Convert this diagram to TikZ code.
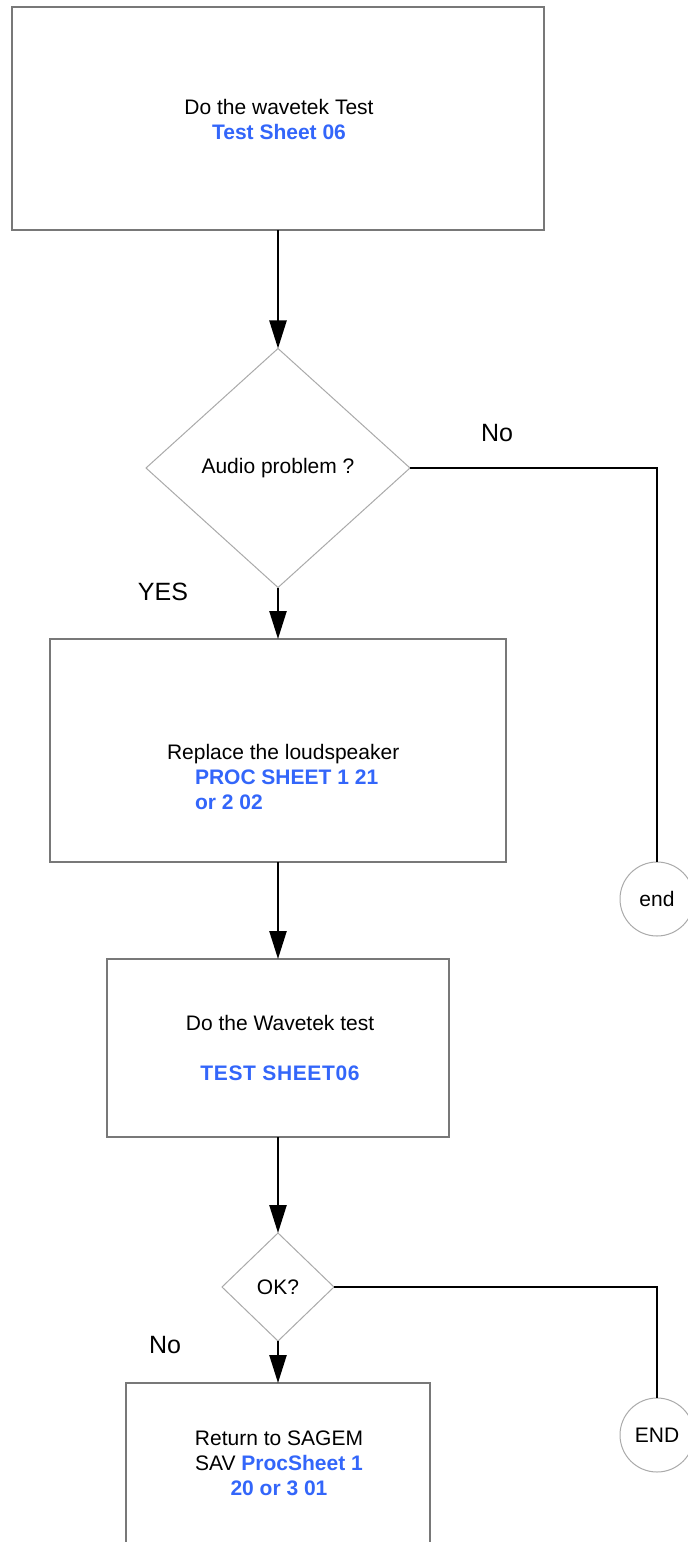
\documentclass[tikz,border=0pt]{standalone}
\usepackage{fontspec}
\setmainfont{Liberation Sans}
\usetikzlibrary{shapes.geometric,arrows.meta}
\definecolor{blueT}{RGB}{51,102,250}
\definecolor{boxline}{RGB}{120,120,120}
\definecolor{dialine}{RGB}{170,170,170}
\newcommand{\bl}[1]{{\bfseries\color{blueT}#1}}
\tikzset{
  every node/.style={font=\fontsize{21}{25}\selectfont, inner sep=0pt, outer sep=0pt},
  stepbox/.style={draw=boxline, line width=1.3pt, rectangle, fill=none},
  decision/.style={draw=dialine, line width=1pt, diamond},
  terminal/.style={draw=dialine, line width=1pt, circle, minimum size=74pt},
  conn/.style={draw=black, line width=2.4pt},
  arr/.style={conn, -{Triangle[length=28pt,width=17pt]}},
  lbl/.style={font=\fontsize{25}{28}\selectfont},
  txt/.style={align=center}
}
\begin{document}
\begin{tikzpicture}[x=1pt,y=-1pt]
\useasboundingbox (0,0) rectangle (688,1542);
\clip (0,0) rectangle (688,1542);
\fill[white] (0,0) rectangle (688,1542);
% boxes
\node[stepbox, minimum width=532pt, minimum height=223pt] (b1) at (278,118.5) {};
\node[txt] (t1) at (279,119) {Do the wavetek Test\\ \bl{Test Sheet 06}};
\node[decision, minimum width=264pt, minimum height=239pt] (d1) at (278,468) {Audio problem ?};
\node[stepbox, minimum width=456pt, minimum height=223pt] (b2) at (278,750.5) {};
\node[align=left, anchor=west] (t2) at (167,777) {Replace the loudspeaker\\ \hspace*{28pt}\bl{PROC SHEET 1 21}\\ \hspace*{28pt}\bl{or 2 02}};
\node[stepbox, minimum width=342pt, minimum height=178pt] (b3) at (278,1048) {};
\node[txt] (t3) at (280,1048) {Do the Wavetek test\\[25pt] \bl{\addfontfeature{LetterSpace=3}TEST SHEET06}};
\node[decision, minimum width=112pt, minimum height=108pt] (d2) at (278,1287) {OK?};
\node[stepbox, minimum width=304pt, minimum height=317pt] (b4) at (278,1541.5) {};
\node[txt] (t4) at (279,1463) {Return to SAGEM\\ SAV \bl{ProcSheet 1}\\ \bl{20 or 3 01}};
\node[terminal] (e1) at (657,899) {end};
\node[terminal] (e2) at (657,1435) {END};
% labels
\node[lbl] (lno1) at (497,433) {No};
\node[lbl] (lyes) at (163,592) {YES};
\node[lbl] (lno2) at (165,1345) {No};
% connectors
\draw[arr] (b1) -- (d1);
\draw[arr] (d1) -- (b2);
\draw[arr] (b2) -- (b3);
\draw[arr] (b3) -- (d2);
\draw[arr] (d2) -- (b4);
\draw[conn] (d1.east) -| (e1.north);
\draw[conn] (d2.east) -| (e2.north);
\end{tikzpicture}
\end{document}
